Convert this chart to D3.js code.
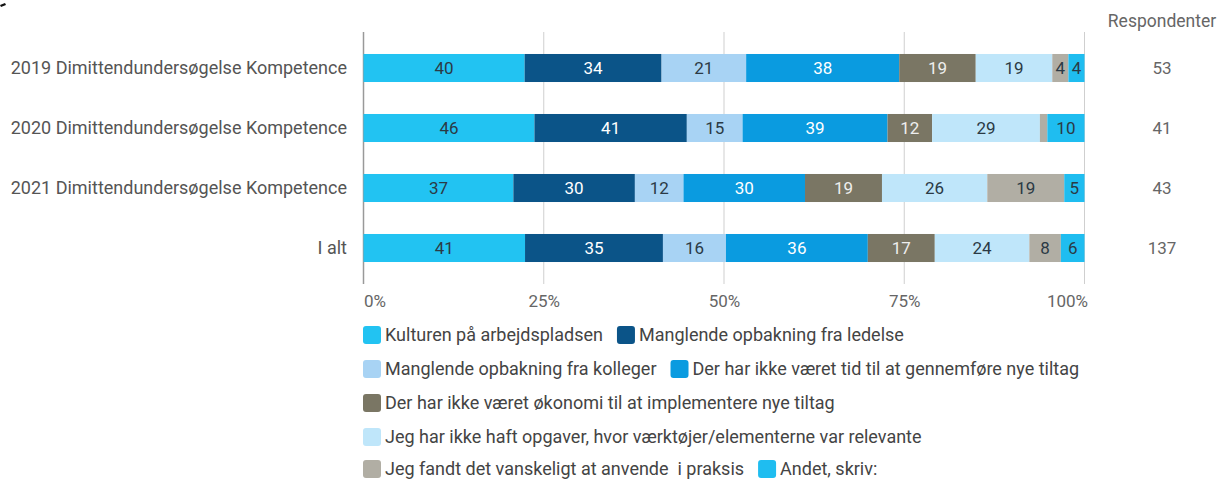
<!DOCTYPE html>
<html>
<head>
<meta charset="utf-8">
<script src="https://cdn.jsdelivr.net/npm/d3@7"></script>
<style>
  html, body { margin: 0; padding: 0; background: #fff; }
  svg { display: block; font-family: Roboto, "Noto Sans", sans-serif; }
</style>
</head>
<body>
<svg id="chart" width="1219" height="479"></svg>
<script>
// ---- data ----
const categories = [
  "2019 Dimittendundersøgelse Kompetence",
  "2020 Dimittendundersøgelse Kompetence",
  "2021 Dimittendundersøgelse Kompetence",
  "I alt"
];
const seriesNames = [
  "Kulturen på arbejdspladsen",
  "Manglende opbakning fra ledelse",
  "Manglende opbakning fra kolleger",
  "Der har ikke været tid til at gennemføre nye tiltag",
  "Der har ikke været økonomi til at implementere nye tiltag",
  "Jeg har ikke haft opgaver, hvor værktøjer/elementerne var relevante",
  "Jeg fandt det vanskeligt at anvende  i praksis",
  "Andet, skriv:"
];
const kultur     = [40, 46, 37, 41];
const ledelse    = [34, 41, 30, 35];
const kolleger   = [21, 15, 12, 16];
const tid        = [38, 39, 30, 36];
const okonomi    = [19, 12, 19, 17];
const opgaver    = [19, 29, 26, 24];
const vanskeligt = [4, 2, 19, 8];
const andet      = [4, 10, 5, 6];
const respondenter = [53, 41, 43, 137];
const tickLabels = ["0%", "25%", "50%", "75%", "100%"];
const tickValues = [0, 0.25, 0.5, 0.75, 1];
const respHeader = "Respondenter";

// ---- styles ----
const colors = ["#22c3f2", "#0b5488", "#a8d3f4", "#0a9be0", "#7a7664", "#bfe6fa", "#b1aea4", "#1fbdf0"];
const labelColors = ["#2b3a45", "#ffffff", "#2b3a45", "#ffffff", "#eeeeee", "#2b3a45", "#2b3a45", "#2b3a45"];

const allSeries = [kultur, ledelse, kolleger, tid, okonomi, opgaver, vanskeligt, andet];
const rows = categories.map((c, i) => {
  const r = { cat: c };
  seriesNames.forEach((s, j) => { r[s] = allSeries[j][i]; });
  return r;
});

const svg = d3.select("#chart");
const margin = { left: 363.5, right: 1084.5, top: 32, bottom: 284 };

const x = d3.scaleLinear().domain([0, 1]).range([margin.left, margin.right]);
const y = d3.scaleBand().domain(categories).range([38, 278]).paddingInner(0.533).paddingOuter(0.2665);

const stack = d3.stack().keys(seriesNames).offset(d3.stackOffsetExpand);
const stacked = stack(rows);

// tiny mark top-left (as in reference)
svg.append("path").attr("d", "M0,5 L5,3 L6,5 L1,7 Z").attr("fill", "#111");

// gridlines
const grid = svg.append("g");
tickValues.forEach((t, i) => {
  grid.append("line")
    .attr("x1", x(t)).attr("x2", x(t))
    .attr("y1", margin.top).attr("y2", margin.bottom)
    .attr("stroke", i === 0 ? "#999" : "#cfcfcf")
    .attr("stroke-width", i === 0 ? 1.5 : 1);
});

// x axis labels
const xAxis = d3.axisBottom(x).tickValues(tickValues).tickFormat((d, i) => tickLabels[i]).tickSize(0).tickPadding(0);
const ax = svg.append("g").attr("transform", `translate(0, ${295})`).call(xAxis);
ax.select(".domain").remove();
ax.selectAll("text")
  .attr("font-size", 17).attr("fill", "#666").attr("font-family", "Roboto, sans-serif")
  .attr("text-anchor", (d, i) => i === 0 ? "start" : (i === tickValues.length - 1 ? "end" : "middle"))
  .attr("dx", (d, i) => i === tickValues.length - 1 ? 3 : 0);

// bars
const layers = svg.append("g").selectAll("g").data(stacked).join("g");
layers.each(function(layer, j) {
  const g = d3.select(this);
  g.selectAll("rect").data(layer).join("rect")
    .attr("x", d => x(d[0]))
    .attr("width", d => x(d[1]) - x(d[0]))
    .attr("y", d => y(d.data.cat))
    .attr("height", y.bandwidth())
    .attr("fill", colors[j]);
  g.selectAll("text").data(layer.filter(d => x(d[1]) - x(d[0]) > 12)).join("text")
    .attr("x", d => (x(d[0]) + x(d[1])) / 2)
    .attr("y", d => y(d.data.cat) + y.bandwidth() / 2)
    .attr("dy", "0.36em")
    .attr("text-anchor", "middle")
    .attr("font-size", 17)
    .attr("fill", labelColors[j])
    .text(d => d.data[layer.key]);
});

// category labels
const yAxis = d3.axisLeft(y).tickSize(0).tickPadding(0);
const ay = svg.append("g").attr("transform", `translate(347, 0)`).call(yAxis);
ay.select(".domain").remove();
ay.selectAll("text").attr("font-size", 18).attr("fill", "#555").attr("font-family", "Roboto, sans-serif");

// respondenter column
svg.append("text").attr("x", 1162).attr("y", 21).attr("dy", "0.36em")
  .attr("text-anchor", "middle").attr("font-size", 17.5).attr("fill", "#666").text(respHeader);
svg.append("g").selectAll("text").data(categories).join("text")
  .attr("x", 1162)
  .attr("y", d => y(d) + y.bandwidth() / 2)
  .attr("dy", "0.36em")
  .attr("text-anchor", "middle")
  .attr("font-size", 17)
  .attr("fill", "#666")
  .text((d, i) => respondenter[i]);

// legend
const legendRows = [[0, 1], [2, 3], [4], [5], [6, 7]];
const legendY = [335, 369, 403, 437, 469];
const legend = svg.append("g");
legendRows.forEach((row, ri) => {
  let cx = 363;
  const cy = legendY[ri];
  row.forEach(si => {
    legend.append("rect")
      .attr("x", cx).attr("y", cy - 9).attr("width", 18).attr("height", 18)
      .attr("rx", 3).attr("fill", colors[si]);
    const t = legend.append("text")
      .attr("x", cx + 22).attr("y", cy).attr("dy", "0.36em")
      .attr("font-size", 18).attr("fill", "#444")
      .attr("xml:space", "preserve").style("white-space", "pre")
      .text(seriesNames[si]);
    cx += 22 + t.node().getComputedTextLength() + 14;
  });
});
</script>
</body>
</html>
